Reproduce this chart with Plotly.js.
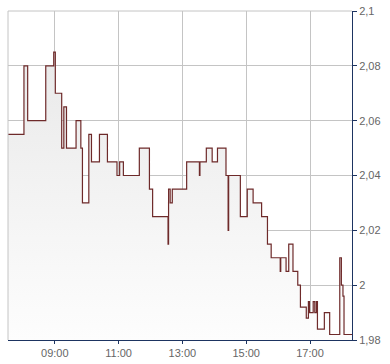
<!DOCTYPE html>
<html>
<head>
<meta charset="utf-8">
<script src="https://cdn.plot.ly/plotly-3.0.1.min.js"></script>
<style>
html,body{margin:0;padding:0;background:#fff;}
#chart{width:390px;height:364px;}
</style>
</head>
<body>
<div id="chart"></div>
<script>
var day = '2024-01-01 ';
var times = ['07:32','08:02','08:09','08:43','08:58','09:01','09:13','09:17','09:22','09:40',
  '09:49','09:52','10:04','10:09','10:24','10:39','10:57','11:02',
  '11:09','11:39','11:58','12:04','12:33','12:34','12:37','12:41','13:08','13:32',
  '13:33','13:45','13:56','14:06','14:22','14:26','14:27','14:49','15:02','15:13',
  '15:29','15:40','15:47','16:04','16:05','16:15','16:20','16:28','16:37','16:42',
  '16:53','16:57','16:59','17:06','17:09','17:12','17:14','17:27','17:37','17:56',
  '17:59','18:02','18:04','18:19'];
var prices = [2.055,2.08,2.06,2.08,2.085,2.07,2.05,2.065,2.05,2.06,
  2.05,2.03,2.055,2.045,2.055,2.045,2.04,2.045,
  2.04,2.05,2.035,2.025,2.015,2.035,2.03,2.035,2.045,2.04,
  2.045,2.05,2.045,2.05,2.04,2.02,2.04,2.025,2.035,2.03,
  2.025,2.015,2.01,2.005,2.01,2.005,2.015,2.005,2.0,1.992,
  1.988,1.994,1.99,1.994,1.99,1.994,1.984,1.99,1.982,2.01,
  2.0,1.996,1.982,1.982];
var xTickStart = '09:00';
var yRange = [1.98, 2.1];
var xRange = ['07:32', '18:19'];

var x = times.map(function(t){ return day + t; });

var trace = {
  x: x, y: prices, type: 'scatter', mode: 'lines',
  line: {shape: 'hv', color: '#6e2a2a', width: 1.2},
  fill: 'tozeroy',
  fillgradient: {type: 'vertical', start: 1.98, stop: 2.085,
    colorscale: [[0, '#fdfdfd'], [1, '#e9e9e9']]},
  hoverinfo: 'skip'
};

var navy = '#1d3461';
var layout = {
  width: 390, height: 364,
  margin: {l: 8, r: 38, t: 11, b: 24},
  paper_bgcolor: '#ffffff', plot_bgcolor: '#ffffff',
  showlegend: false,
  separators: ',.',
  font: {family: 'Liberation Sans, Arial, sans-serif', size: 11, color: '#666666'},
  xaxis: {
    type: 'date',
    range: [day + xRange[0], day + xRange[1]],
    tick0: day + xTickStart, dtick: 7200000, tickformat: '%H:%M',
    showgrid: true, gridcolor: '#c4c4c4', gridwidth: 1,
    showline: true, linecolor: navy, linewidth: 1,
    ticks: 'outside', ticklen: 3, tickcolor: navy,
    zeroline: false, fixedrange: true
  },
  yaxis: {
    side: 'right',
    range: yRange, dtick: 0.02, tick0: 1.98,
    showgrid: true, gridcolor: '#c4c4c4', gridwidth: 1,
    showline: true, linecolor: navy, linewidth: 1,
    ticks: 'outside', ticklen: 4, tickcolor: navy,
    zeroline: false, fixedrange: true
  },
  shapes: [
    {type: 'line', xref: 'paper', yref: 'paper', x0: 0, x1: 0, y0: 0, y1: 1,
     line: {color: '#c4c4c4', width: 1}},
    {type: 'line', xref: 'paper', yref: 'paper', x0: 0, x1: 1, y0: 1, y1: 1,
     line: {color: '#c4c4c4', width: 1}, layer: 'below'}
  ]
};

Plotly.newPlot('chart', [trace], layout, {displayModeBar: false, staticPlot: true});
</script>
</body>
</html>
